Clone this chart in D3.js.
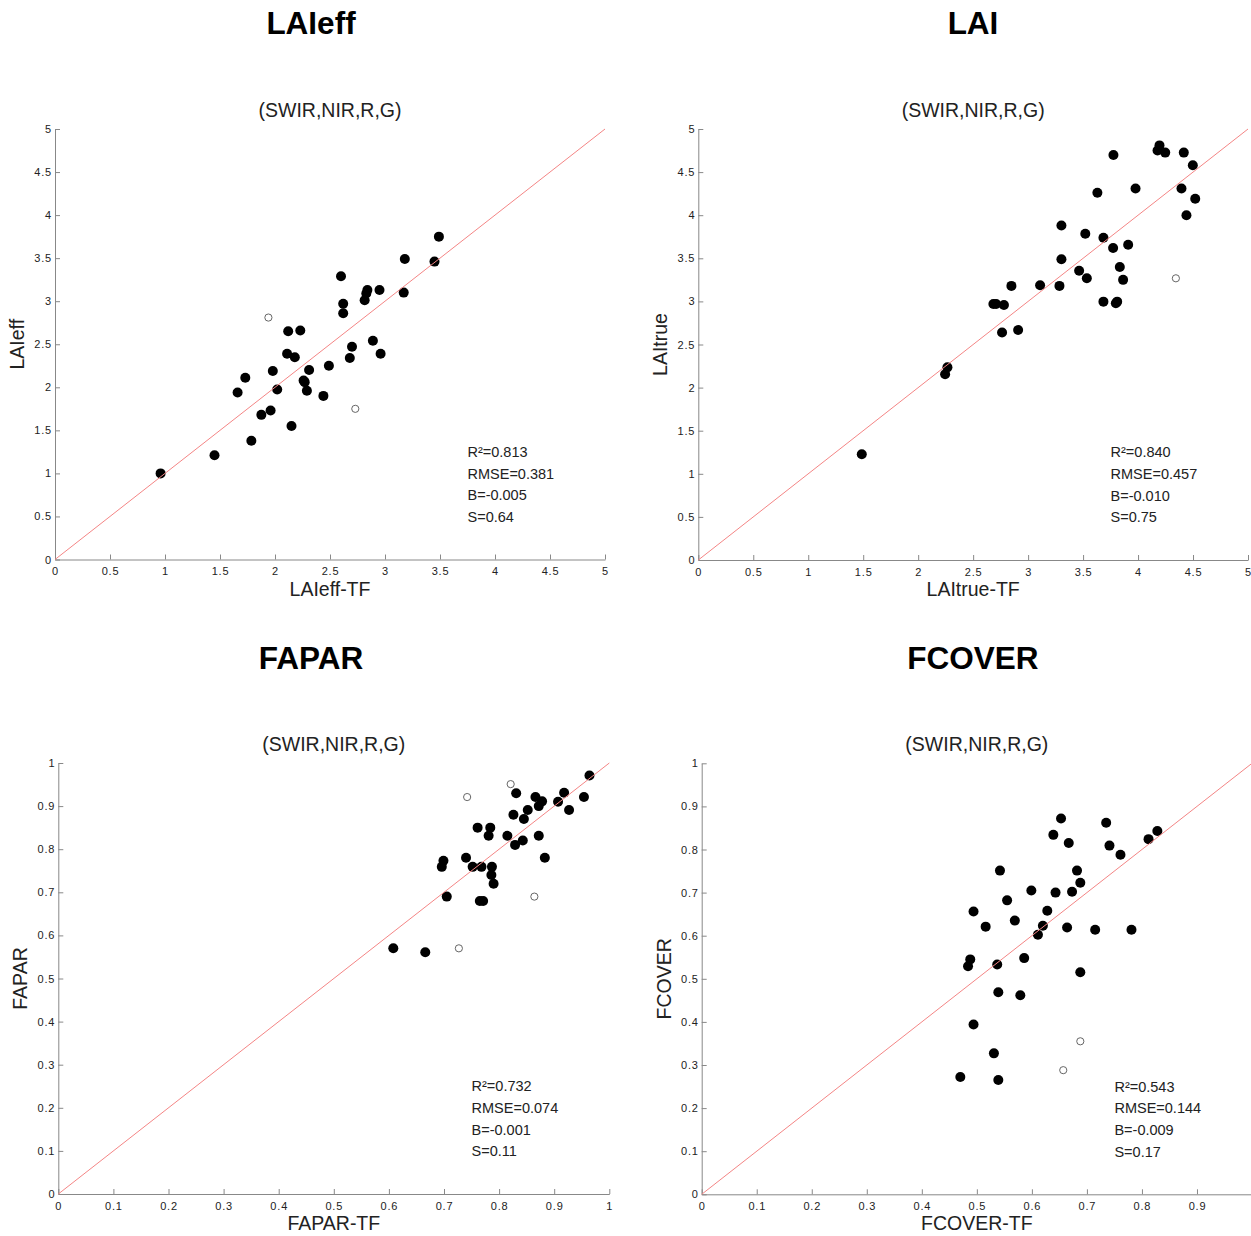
<!DOCTYPE html>
<html>
<head>
<meta charset="UTF-8">
<title>TF validation scatter</title>
<script src="https://d3js.org/d3.v7.min.js"></script>
<style>
  * { margin: 0; padding: 0; box-sizing: border-box; }
  body { background: #fff; font-family: Arial, "Liberation Sans", Helvetica, sans-serif; }
  svg { display: block; }
  .tick text { fill: #222; font-size: 11px; letter-spacing: 0.8px; }
  .axis path, .axis line { stroke: #888; }
</style>
</head>
<body>
<div id="chart"></div>
<script>
// ---- data: [TF estimate, ground value] ----
const laieffPoints = [
  [0.96,1.00],[1.45,1.21],[1.66,1.94],[1.73,2.11],[1.785,1.38],[1.876,1.68],[1.96,1.73],
  [1.98,2.19],[2.02,1.975],[2.15,1.55],[2.11,2.39],[2.18,2.35],[2.26,2.08],[2.27,2.06],
  [2.31,2.20],[2.29,1.96],[2.12,2.65],[2.23,2.66],[2.44,1.90],[2.49,2.25],[2.68,2.34],
  [2.70,2.47],[2.89,2.54],[2.96,2.39],[2.60,3.29],[2.62,2.97],[2.62,2.86],[2.815,3.01],
  [2.83,3.09],[2.84,3.13],[2.95,3.13],[3.17,3.10],[3.18,3.49],[3.45,3.46],[3.49,3.75]
];
const laieffOutliers = [[1.94,2.81],[2.73,1.75]];

const laitruePoints = [
  [1.487,1.226],[2.245,2.154],[2.266,2.235],[2.684,2.97],[2.709,2.97],[2.78,2.958],
  [2.763,2.64],[2.909,2.668],[2.848,3.18],[3.109,3.187],[3.285,3.18],[3.303,3.488],
  [3.303,3.88],[3.52,3.785],[3.464,3.356],[3.534,3.268],[3.685,3.739],[3.63,4.26],
  [3.776,4.698],[3.773,3.62],[3.91,3.658],[3.834,3.40],[3.864,3.25],[3.685,2.997],
  [3.798,2.978],[3.81,2.997],[3.977,4.31],[4.177,4.75],[4.195,4.81],[4.247,4.726],
  [4.416,4.726],[4.498,4.58],[4.395,4.31],[4.52,4.19],[4.44,4.00]
];
const laitrueOutliers = [[4.344,3.268]];

const faparPoints = [
  [0.964,0.971],[0.831,0.930],[0.866,0.921],[0.878,0.911],[0.872,0.900],[0.918,0.931],
  [0.907,0.910],[0.954,0.921],[0.927,0.891],[0.852,0.891],[0.826,0.880],[0.845,0.870],
  [0.761,0.850],[0.784,0.850],[0.781,0.831],[0.815,0.831],[0.843,0.820],[0.829,0.810],
  [0.872,0.831],[0.883,0.780],[0.740,0.780],[0.699,0.773],[0.696,0.759],[0.752,0.759],
  [0.768,0.759],[0.787,0.759],[0.786,0.740],[0.790,0.720],[0.705,0.690],[0.765,0.680],
  [0.771,0.680],[0.608,0.570],[0.666,0.561]
];
const faparOutliers = [[0.821,0.951],[0.742,0.921],[0.864,0.690],[0.727,0.570]];

const fcoverPoints = [
  [0.653,0.872],[0.735,0.862],[0.639,0.834],[0.667,0.815],[0.828,0.843],[0.812,0.824],
  [0.741,0.809],[0.761,0.788],[0.542,0.751],[0.682,0.751],[0.688,0.723],[0.599,0.705],
  [0.643,0.700],[0.673,0.702],[0.555,0.682],[0.628,0.658],[0.494,0.656],[0.569,0.635],
  [0.516,0.621],[0.620,0.623],[0.611,0.602],[0.664,0.619],[0.715,0.614],[0.781,0.614],
  [0.488,0.545],[0.586,0.548],[0.484,0.529],[0.537,0.533],[0.688,0.515],[0.539,0.469],
  [0.579,0.462],[0.494,0.394],[0.531,0.327],[0.470,0.272],[0.539,0.265]
];
const fcoverOutliers = [[0.688,0.355],[0.657,0.288]];

const titles = ["LAIeff", "LAI", "FAPAR", "FCOVER"];
const subtitle = "(SWIR,NIR,R,G)";
const xLabels = ["LAIeff-TF", "LAItrue-TF", "FAPAR-TF", "FCOVER-TF"];
const yLabels = ["LAIeff", "LAItrue", "FAPAR", "FCOVER"];
const stats = [
  ["R²=0.813", "RMSE=0.381", "B=-0.005", "S=0.64"],
  ["R²=0.840", "RMSE=0.457", "B=-0.010", "S=0.75"],
  ["R²=0.732", "RMSE=0.074", "B=-0.001", "S=0.11"],
  ["R²=0.543", "RMSE=0.144", "B=-0.009", "S=0.17"]
];
const laiTicks = d3.range(0, 5.001, 0.5);
const fracTicks = d3.range(0, 1.001, 0.1);

// ---- layout ----
const W = 1251, H = 1236;
const panels = [
  { pts: laieffPoints, out: laieffOutliers, max: 5, ticks: laiTicks, left: 55,    right: 605,  top: 129,   bottom: 559.5, titleX: 311, titleY: 34 },
  { pts: laitruePoints, out: laitrueOutliers, max: 5, ticks: laiTicks, left: 698.3, right: 1248, top: 129, bottom: 560,   titleX: 973, titleY: 34 },
  { pts: faparPoints, out: faparOutliers, max: 1, ticks: fracTicks, left: 58.3,  right: 609.3, top: 763,  bottom: 1194,  titleX: 311, titleY: 669 },
  { pts: fcoverPoints, out: fcoverOutliers, max: 1, ticks: fracTicks, left: 701.7, right: 1252, top: 763.3, bottom: 1194.3, titleX: 973, titleY: 669 }
];

const svg = d3.select("#chart").append("svg")
  .attr("width", W)
  .attr("height", H);

const fmt = d => String(+d.toFixed(1));

panels.forEach((p, i) => {
  const x = d3.scaleLinear().domain([0, p.max]).range([p.left, p.right]);
  const y = d3.scaleLinear().domain([0, p.max]).range([p.bottom, p.top]);
  const g = svg.append("g");

  // titles
  g.append("text")
    .attr("x", p.titleX).attr("y", p.titleY)
    .attr("text-anchor", "middle")
    .style("font-size", "31.5px").style("font-weight", "bold")
    .text(titles[i]);

  g.append("text")
    .attr("x", (p.left + p.right) / 2).attr("y", p.top - 12)
    .attr("text-anchor", "middle")
    .style("font-size", "19.5px").style("fill", "#222")
    .text(subtitle);

  // axes, ticks pointing inward
  const xAxis = g.append("g").attr("class", "axis")
    .attr("transform", `translate(0,${p.bottom})`)
    .call(d3.axisBottom(x).tickValues(p.ticks).tickFormat(fmt)
      .tickSizeInner(-5).tickSizeOuter(0).tickPadding(8));
  // a label whose tick sits past the page edge is not visible in the original
  xAxis.selectAll(".tick text").filter(d => x(d) > W).remove();

  g.append("g").attr("class", "axis")
    .attr("transform", `translate(${p.left},0)`)
    .call(d3.axisLeft(y).tickValues(p.ticks).tickFormat(fmt)
      .tickSizeInner(-5).tickSizeOuter(0).tickPadding(3));

  // axis labels
  g.append("text")
    .attr("x", (p.left + p.right) / 2).attr("y", p.bottom + 36)
    .attr("text-anchor", "middle")
    .style("font-size", "19.5px").style("fill", "#222")
    .text(xLabels[i]);

  g.append("text")
    .attr("transform", `translate(${p.left - 31},${(p.top + p.bottom) / 2}) rotate(-90)`)
    .attr("text-anchor", "middle")
    .style("font-size", "19.5px").style("fill", "#222")
    .text(yLabels[i]);

  // points
  g.selectAll(".pt").data(p.pts).join("circle")
    .attr("class", "pt")
    .attr("cx", d => x(d[0])).attr("cy", d => y(d[1]))
    .attr("r", 5).attr("fill", "#000");

  g.selectAll(".outl").data(p.out).join("circle")
    .attr("class", "outl")
    .attr("cx", d => x(d[0])).attr("cy", d => y(d[1]))
    .attr("r", 3.6).attr("fill", "#fff")
    .attr("stroke", "#666").attr("stroke-width", 1);

  // 1:1 line
  g.append("line")
    .attr("x1", x(0)).attr("y1", y(0))
    .attr("x2", x(p.max)).attr("y2", y(p.max))
    .attr("stroke", "#f48585").attr("stroke-width", 1);

  // statistics block
  g.append("g").selectAll("text").data(stats[i]).join("text")
    .attr("x", x(p.max * 0.75))
    .attr("y", (d, k) => y(p.max * 0.25) + 5 + k * 21.7)
    .style("font-size", "14.5px").style("fill", "#222")
    .text(d => d);
});
</script>
</body>
</html>
